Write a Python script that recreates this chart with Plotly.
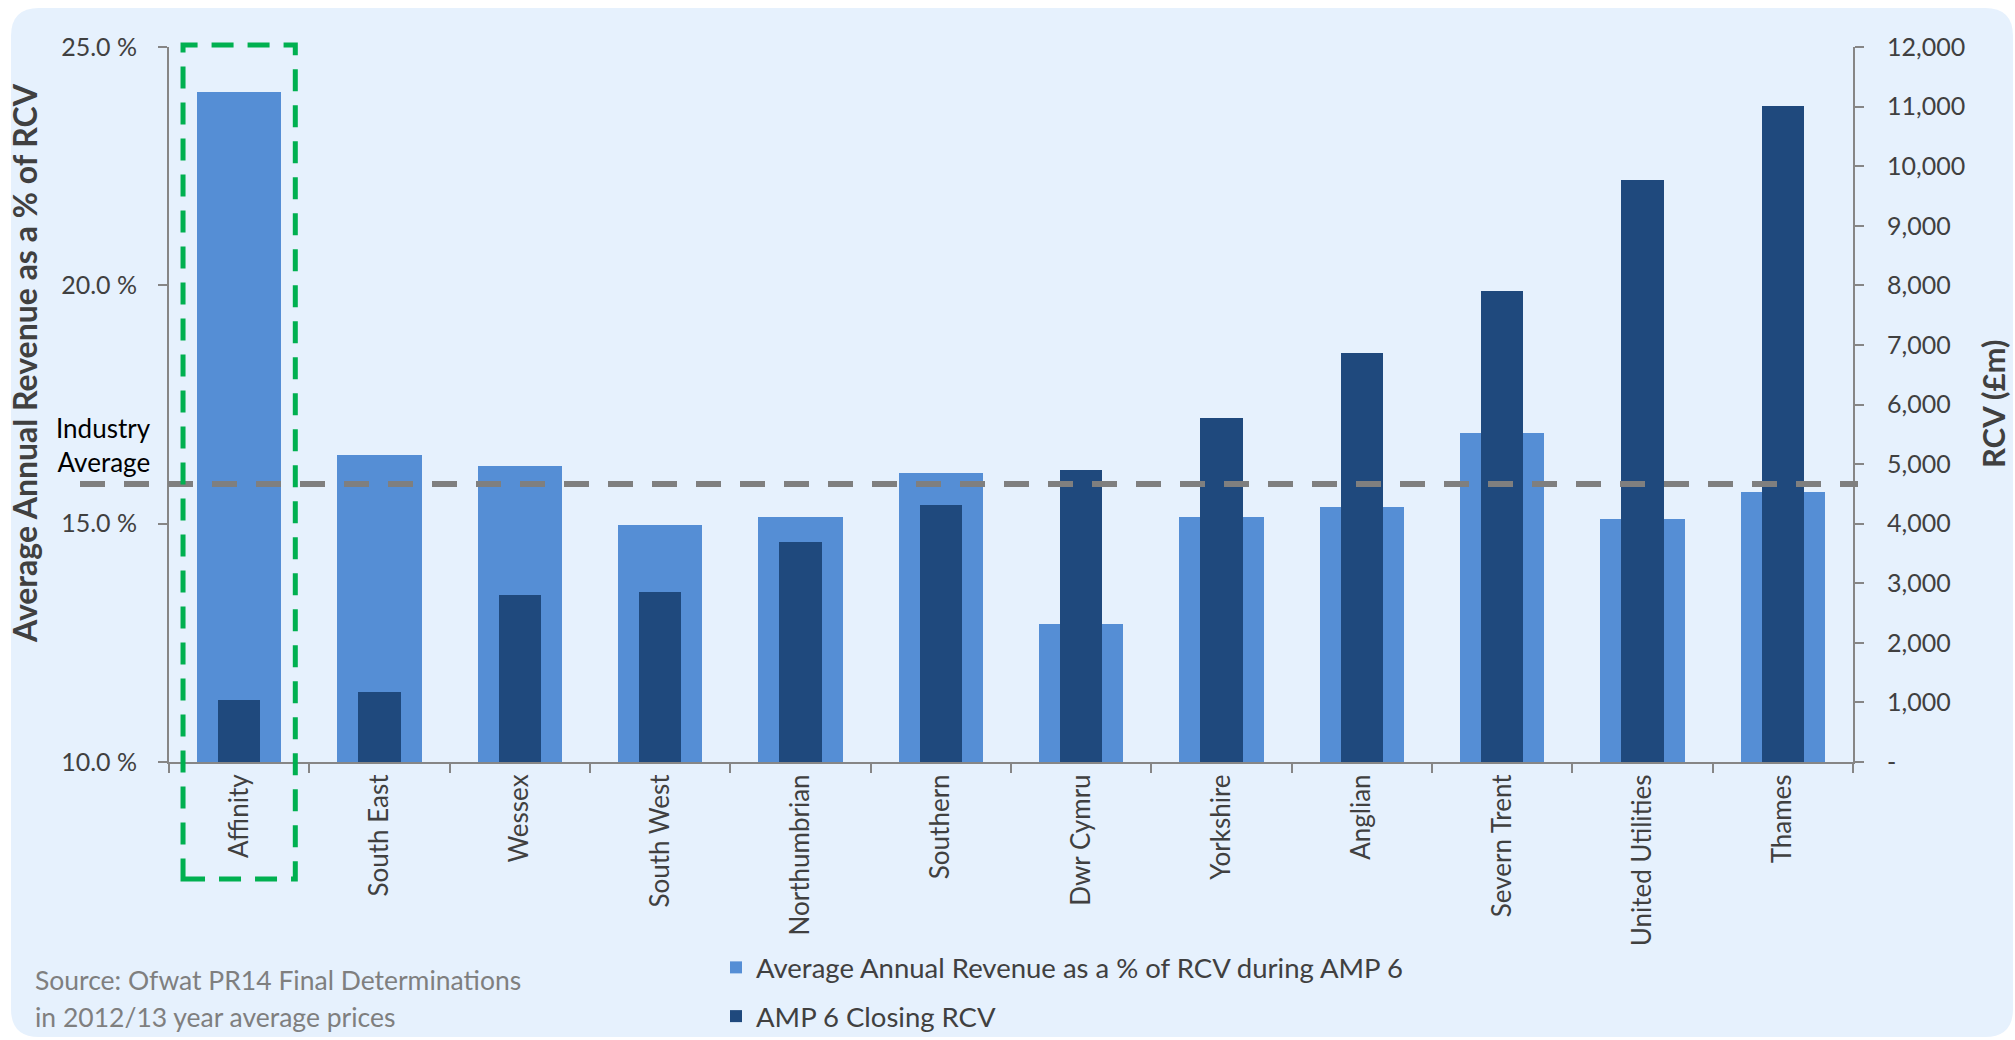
import plotly.graph_objects as go

# ---------------- data ----------------
companies = ["Affinity", "South East", "Wessex", "South West", "Northumbrian",
             "Southern", "Dwr Cymru", "Yorkshire", "Anglian", "Severn Trent",
             "United Utilities", "Thames"]
revenue_pct_rcv = [24.06, 16.45, 16.20, 14.98, 15.15, 16.06, 12.89, 15.14, 15.35, 16.91, 15.09, 15.67]
closing_rcv = [1045, 1180, 2796, 2851, 3699, 4317, 4903, 5774, 6867, 7913, 9766, 11018]
industry_average = 15.83

left_tickvals = [10, 15, 20, 25]
left_ticktext = ["10.0 %", "15.0 %", "20.0 %", "25.0 %"]
right_tickvals = [0, 1000, 2000, 3000, 4000, 5000, 6000, 7000, 8000, 9000, 10000, 11000, 12000]
right_ticktext = ["-", "1,000", "2,000", "3,000", "4,000", "5,000", "6,000", "7,000",
                  "8,000", "9,000", "10,000", "11,000", "12,000"]

series_names = ["Average Annual Revenue as a % of RCV during AMP 6", "AMP 6 Closing RCV"]
left_title = "Average Annual Revenue as a % of RCV"
right_title = "RCV (£m)"
source_lines = ["Source: Ofwat PR14 Final Determinations", "in 2012/13 year average prices"]

# ---------------- layout geometry ----------------
W, H = 2015, 1040
ML, MR, MT, MB = 169, 2015 - 1853, 47, 1040 - 762
PW, PH = W - ML - MR, H - MT - MB


def px(X):
    return (X - ML) / PW


def py(Y):
    return (H - MB - Y) / PH


FONT = "Lato, 'Open Sans', sans-serif"
TXT = "#404040"
AXC = "#868686"
LIGHT = "#558ED5"
DARK = "#1F497D"
PANEL = "#E6F1FD"

fig = go.Figure()
fig.add_trace(go.Bar(x=companies, y=revenue_pct_rcv, name=series_names[0],
                     marker=dict(color=LIGHT, line=dict(width=0)), width=0.6,
                     yaxis="y", legendgroup="a"))
fig.add_trace(go.Bar(x=companies, y=closing_rcv, name=series_names[1],
                     marker=dict(color=DARK, line=dict(width=0)), width=0.3,
                     yaxis="y2", legendgroup="b"))

# rounded background panel
x0, x1, y0, y1, r = 11, 2013, 8, 1037, 28
path = (f"M {px(x0 + r)},{py(y0)} L {px(x1 - r)},{py(y0)} "
        f"Q {px(x1)},{py(y0)} {px(x1)},{py(y0 + r)} "
        f"L {px(x1)},{py(y1 - r)} Q {px(x1)},{py(y1)} {px(x1 - r)},{py(y1)} "
        f"L {px(x0 + r)},{py(y1)} Q {px(x0)},{py(y1)} {px(x0)},{py(y1 - r)} "
        f"L {px(x0)},{py(y0 + r)} Q {px(x0)},{py(y0)} {px(x0 + r)},{py(y0)} Z")
shapes = [
    dict(type="path", xref="paper", yref="paper", path=path,
         fillcolor=PANEL, line=dict(width=0), layer="below"),
    # industry average dashed line
    dict(type="line", xref="paper", yref="y", x0=px(80), x1=px(1858),
         y0=industry_average, y1=industry_average,
         line=dict(color="#7F7F7F", width=6, dash="25px,19px"), layer="above"),
    # highlight box around Affinity
    dict(type="rect", xref="x", yref="paper", x0=-0.4, x1=0.4, y0=py(879), y1=py(45),
         line=dict(color="#00B050", width=5, dash="22px,14px"), layer="above"),
]

annotations = [
    dict(text="Industry<br>Average", xref="paper", yref="paper", x=px(153), y=py(445),
         xanchor="right", yanchor="middle", align="right", showarrow=False,
         font=dict(family=FONT, size=26, color="#000000")),
    dict(text=f"<b>{left_title}</b>", xref="paper", yref="paper", x=px(24), y=py(363),
         xanchor="center", yanchor="middle", textangle=-90, showarrow=False,
         font=dict(family=FONT, size=32, color=TXT)),
    dict(text=f"<b>{right_title}</b>", xref="paper", yref="paper", x=px(1993), y=py(404),
         xanchor="center", yanchor="middle", textangle=-90, showarrow=False,
         font=dict(family=FONT, size=31, color=TXT)),
    dict(text=source_lines[0], xref="paper", yref="paper", x=px(33), y=py(980),
         xanchor="left", yanchor="middle", showarrow=False,
         font=dict(family=FONT, size=26.5, color="#7F7F7F")),
    dict(text=source_lines[1], xref="paper", yref="paper", x=px(33), y=py(1017),
         xanchor="left", yanchor="middle", showarrow=False,
         font=dict(family=FONT, size=26.5, color="#7F7F7F")),
]

fig.update_layout(
    width=W, height=H,
    margin=dict(l=ML, r=MR, t=MT, b=MB, autoexpand=False),
    paper_bgcolor="#FFFFFF", plot_bgcolor="rgba(0,0,0,0)",
    barmode="overlay", bargap=0,
    font=dict(family=FONT, color=TXT),
    shapes=shapes, annotations=annotations,
    showlegend=True,
    legend=dict(x=px(716), y=py(943), xanchor="left", yanchor="top",
                orientation="v", bgcolor="rgba(0,0,0,0)", tracegroupgap=10,
                font=dict(family=FONT, size=27.5, color=TXT), traceorder="grouped"),
    xaxis=dict(type="category", showline=True, linecolor=AXC, linewidth=2,
               ticks="outside", tickson="boundaries", ticklen=9, tickcolor=AXC, tickwidth=2,
               tickangle=-90, tickfont=dict(family=FONT, size=26, color=TXT),
               showgrid=False, zeroline=False, range=[-0.5, 11.5]),
    yaxis=dict(range=[10, 25], tickvals=left_tickvals, ticktext=left_ticktext,
               showline=True, linecolor=AXC, linewidth=2, ticks="outside", ticklen=9,
               tickcolor=AXC, tickwidth=2, ticklabelstandoff=16,
               tickfont=dict(family=FONT, size=25, color=TXT),
               showgrid=False, zeroline=False),
    yaxis2=dict(range=[0, 12000], tickvals=right_tickvals, ticktext=right_ticktext,
                overlaying="y", side="right", showline=True, linecolor=AXC, linewidth=2,
                ticks="outside", ticklen=9, tickcolor=AXC, tickwidth=2,
                ticklabelstandoff=18, tickfont=dict(family=FONT, size=25, color=TXT),
                showgrid=False, zeroline=False),
)

fig.write_html("out.html")
